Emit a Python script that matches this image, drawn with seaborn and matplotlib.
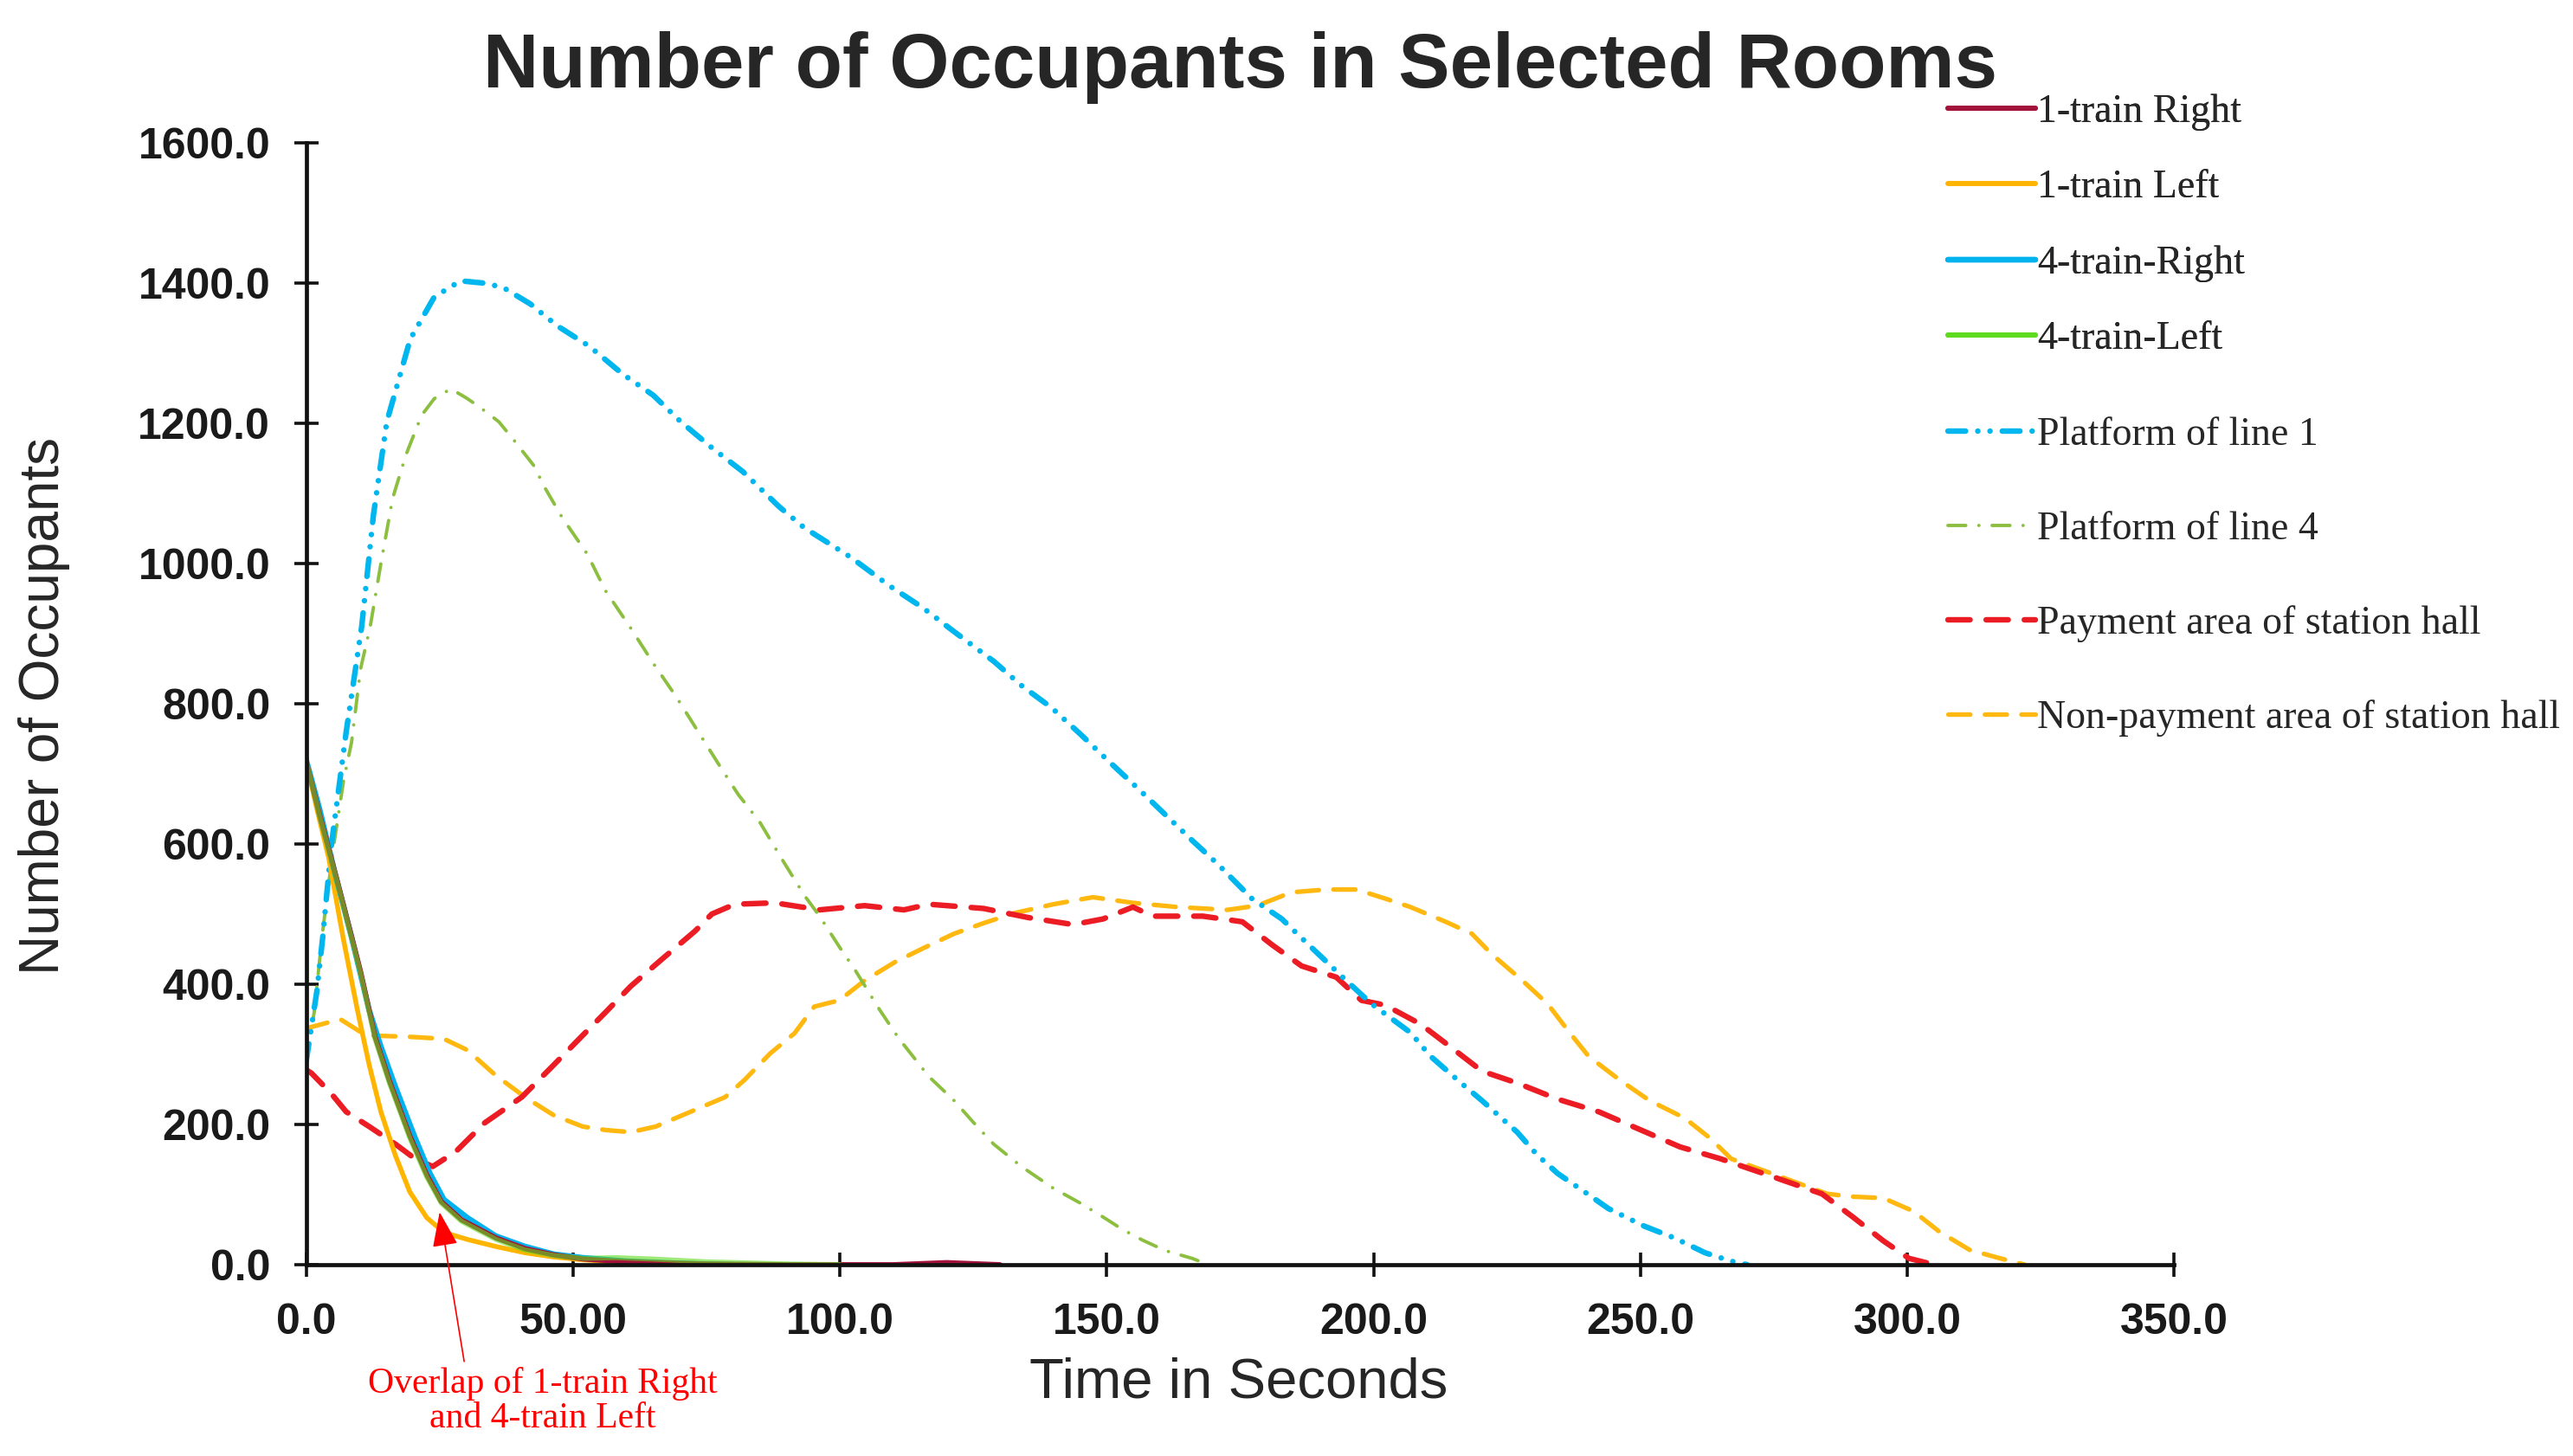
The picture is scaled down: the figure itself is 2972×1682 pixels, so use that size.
import seaborn as sns
import matplotlib.pyplot as plt

# values (time in s, occupants)
t_1train_right = [0, 2.5, 5.8, 10.2, 12.9, 15.6, 19.4, 22.6, 25.3, 29.1, 35.6, 41, 46.4, 52, 58, 65, 75, 90, 110, 120, 130]
v_1train_right = [718, 642, 548, 418, 325, 262, 184, 128, 90, 64, 38, 23, 14, 8, 5, 3, 1, 0, 0, 3, 0]

t_1train_left = [0, 2, 4.2, 6.9, 9.6, 11.8, 14, 16.7, 19.4, 22.6, 25.8, 30.2, 35.5, 41, 46.4, 51.8, 60, 70, 80]
v_1train_left = [718, 650, 581, 467, 363, 285, 218, 156, 104, 67, 46, 36, 26, 17, 11, 7, 3, 1, 0]

t_4train_right = [0, 2.5, 5.3, 8.5, 11.8, 14, 16.7, 20.4, 23.2, 25.8, 30.2, 35.5, 41, 46.4, 51.8, 60, 70, 80]
v_4train_right = [720, 650, 561, 467, 363, 311, 254, 181, 130, 93, 67, 41, 26, 15, 10, 5, 2, 0]

t_4train_left = [0, 2.5, 5.8, 10.2, 12.9, 15.6, 19.4, 22.6, 25.3, 29.1, 35.6, 41, 46.4, 52, 58, 65, 75, 90, 100]
v_4train_left = [718, 640, 546, 415, 322, 259, 181, 125, 88, 62, 36, 21, 13, 9, 10, 8, 4, 1, 0]

t_platform1 = [0, 2, 3.1, 4.7, 7.5, 10.4, 12.6, 15.1, 19.5, 24, 28.9, 33, 36.8, 42, 47, 53, 59.3, 65,
               70.2, 76, 81.8, 88.6, 93.3, 102, 109.3, 115.5, 121, 128.9, 134, 139.7, 145, 150.5, 156,
               161.2, 166, 170.7, 177.2, 182.8, 188.4, 194.9, 199.6, 206.9, 210.7, 216.4, 220.3, 226.9,
               230.7, 234.5, 239.3, 244, 250.7, 256.4, 262.1, 267, 270]
v_platform1 = [290, 390, 467, 597, 760, 910, 1069, 1202, 1320, 1380, 1403, 1400, 1394, 1370, 1339, 1310,
               1270, 1240, 1202, 1165, 1131, 1081, 1051, 1009, 968, 937, 905, 860, 826, 794, 757, 717, 678,
               640, 605, 572, 522, 493, 452, 405, 372, 331, 297, 259, 234, 189, 156, 130, 105, 80, 55, 38,
               17, 5, 0]

t_platform4 = [0, 1.5, 3, 5, 7, 8.5, 10.2, 12, 14, 16.2, 18.7, 21.6, 24, 27.1, 30, 32.5, 36.1, 39, 42.6,
               44.8, 48, 52.7, 56, 60.7, 65, 69.4, 73.7, 78, 81, 85, 89, 93.4, 96.2, 100, 102.7, 107.4,
               111.1, 116.7, 121.4, 125, 128.8, 134, 140, 145, 149.3, 153, 156.7, 161, 166, 169]
v_platform4 = [290, 360, 470, 590, 690, 745, 850, 910, 1000, 1093, 1155, 1211, 1235, 1249, 1236, 1223,
               1202, 1175, 1140, 1107, 1065, 1013, 962, 909, 858, 809, 757, 705, 670, 631, 580, 526, 497,
               452, 422, 364, 322, 268, 234, 203, 172, 140, 109, 88, 68, 50, 35, 20, 9, 0]

t_payment = [0, 1, 4.7, 7.5, 11.8, 16.7, 20.4, 23.7, 28, 33.4, 40.4, 46.4, 51.8, 56.1, 60.8, 66.4, 72.9,
             76, 80.3, 87.8, 96.2, 104.6, 112, 116.7, 126.9, 135.3, 143.7, 149.3, 154.9, 158.6, 168,
             175.4, 181, 186.5, 193, 197.7, 202.2, 208.8, 214.5, 220.3, 226.9, 234.5, 242.2, 249.8,
             257.4, 265, 274.6, 284, 289.8, 295.5, 300.3, 305]
v_payment = [278, 273, 244, 218, 197, 172, 151, 140, 161, 202, 239, 285, 327, 360, 397, 434, 476, 500,
             514, 516, 506, 512, 506, 514, 508, 495, 485, 493, 510, 497, 497, 489, 456, 426, 410, 377,
             370, 343, 310, 276, 259, 236, 218, 193, 168, 151, 126, 101, 68, 34, 9, 0]

t_nonpayment = [0, 6.4, 11.2, 19.3, 25.8, 30.2, 35.5, 41, 46.4, 51.8, 56.1, 60.8, 65.5, 72, 78.5, 82.2,
                86.9, 91.5, 95.2, 99.9, 104.6, 110.2, 115.8, 121.4, 126.9, 132.5, 140, 147.4, 154.9,
                163.2, 172.6, 178.2, 184.6, 191.2, 196.8, 202.2, 206.9, 213.5, 218.4, 222.1, 227.9,
                232.6, 236.4, 240.3, 246, 251.7, 258.3, 263.1, 267, 274.6, 285, 289.8, 295.5, 301.2,
                306, 311.7, 317.4, 322]
v_nonpayment = [337, 350, 327, 325, 322, 306, 270, 239, 213, 197, 192, 189, 197, 218, 239, 264, 301, 330,
                368, 377, 405, 431, 452, 472, 487, 501, 514, 524, 516, 510, 506, 512, 531, 535, 535, 522,
                510, 489, 472, 443, 405, 372, 334, 297, 264, 234, 209, 180, 151, 130, 101, 97, 95, 76,
                47, 21, 9, 0]

x_ticks = [0, 50, 100, 150, 200, 250, 300, 350]
x_tick_labels = ["0.0", "50.00", "100.0", "150.0", "200.0", "250.0", "300.0", "350.0"]
y_ticks = [0, 200, 400, 600, 800, 1000, 1200, 1400, 1600]

sns.set_style("ticks")
plt.rcParams["font.family"] = ["Liberation Sans", "DejaVu Sans"]

fig = plt.figure(figsize=(29.72, 16.82), dpi=100)
ax = fig.add_axes([0.119, 0.1314, 0.726, 0.7706])

# dashed room curves
sns.lineplot(x=t_nonpayment, y=v_nonpayment, ax=ax, color="#FFB80F", lw=3.8,
             linestyle=(0, (4.8, 3.2)), dash_capstyle="round",
             label="Non-payment area of station hall")
sns.lineplot(x=t_payment, y=v_payment, ax=ax, color="#EC1C24", lw=4.6,
             linestyle=(0, (4.0, 2.9)), dash_capstyle="round",
             label="Payment area of station hall")
sns.lineplot(x=t_platform4, y=v_platform4, ax=ax, color="#8CBF3F", lw=2.8,
             linestyle=(0, (5.3, 3.9, 0.01, 3.9)), dash_capstyle="round",
             label="Platform of line 4")
sns.lineplot(x=t_platform1, y=v_platform1, ax=ax, color="#00B6EE", lw=4.6,
             linestyle=(0, (3.2, 2.2, 0.01, 2.2, 0.01, 2.2)), dash_capstyle="round",
             label="Platform of line 1")

# solid train curves
sns.lineplot(x=t_1train_left, y=v_1train_left, ax=ax, color="#FFB400", lw=4.0,
             label="1-train Left")
sns.lineplot(x=t_4train_right, y=v_4train_right, ax=ax, color="#00B2EE", lw=4.6,
             label="4-train-Right")
sns.lineplot(x=t_1train_right, y=v_1train_right, ax=ax, color="#A3123A", lw=4.2,
             label="1-train Right")
sns.lineplot(x=t_4train_left, y=v_4train_left, ax=ax, color="#5EDB1F", lw=4.2, alpha=0.6,
             label="4-train-Left")

ax.set_xlim(0, 350)
ax.set_ylim(0, 1600)
ax.set_xticks(x_ticks)
ax.set_xticklabels(x_tick_labels)
ax.set_yticks(y_ticks)
ax.set_yticklabels([f"{v:.1f}" for v in y_ticks])
sns.despine(ax=ax)
for side in ["left", "bottom"]:
    ax.spines[side].set_linewidth(3.4)
    ax.spines[side].set_color("#111111")
ax.tick_params(axis="both", direction="inout", length=20, width=2.6, color="#111111",
               labelsize=36, pad=20)
ax.tick_params(axis="x", pad=22)
for lab in ax.get_xticklabels() + ax.get_yticklabels():
    lab.set_fontweight("bold")
    lab.set_color("#1a1a1a")

ax.set_xlabel("Time in Seconds", fontsize=47, va="center")
ax.xaxis.set_label_coords(0.4993, -0.1057)
ax.set_ylabel("Number of Occupants", fontsize=46, va="center")
ax.yaxis.set_label_coords(-0.1405, 0.498)

fig.text(0.482, 0.9535, "Number of Occupants in Selected Rooms", ha="center", va="center",
         fontsize=64, fontweight="bold")

# annotation of the hidden curve
ax.annotate("", xy=(25, 75), xytext=(29.6, -138), annotation_clip=False,
            arrowprops=dict(arrowstyle="-|>,head_length=0.55,head_width=0.2", color="red",
                            lw=1.2, mutation_scale=46, shrinkA=0, shrinkB=0))
ax.text(44.3, -195, "Overlap of 1-train Right\nand 4-train Left", ha="center", va="center",
        color="red", fontsize=30, family=["Liberation Serif", "DejaVu Serif"], linespacing=1.05,
        clip_on=False)

# legends in two blocks, as in the figure
lines = {ln.get_label(): ln for ln in ax.get_lines()}
ax.get_legend().remove()
first = ["1-train Right", "1-train Left", "4-train-Right", "4-train-Left"]
second = ["Platform of line 1", "Platform of line 4", "Payment area of station hall",
          "Non-payment area of station hall"]
leg_font = {"family": "Liberation Serif", "size": 33}
leg1 = fig.legend([lines[k] for k in first], first, loc="upper left",
                  bbox_to_anchor=(0.757, 0.9356), frameon=False, prop=leg_font,
                  handlelength=2.2, handletextpad=0.05, labelspacing=0.98,
                  borderpad=0, borderaxespad=0)
for h in leg1.legend_handles:
    h.set_alpha(1)
fig.legend([lines[k] for k in second], second, loc="upper left",
           bbox_to_anchor=(0.757, 0.7139), frameon=False, prop=leg_font,
           handlelength=2.2, handletextpad=0.05, labelspacing=1.45,
           borderpad=0, borderaxespad=0)
fig.add_artist(leg1)

fig.savefig("out.png", dpi=100)
